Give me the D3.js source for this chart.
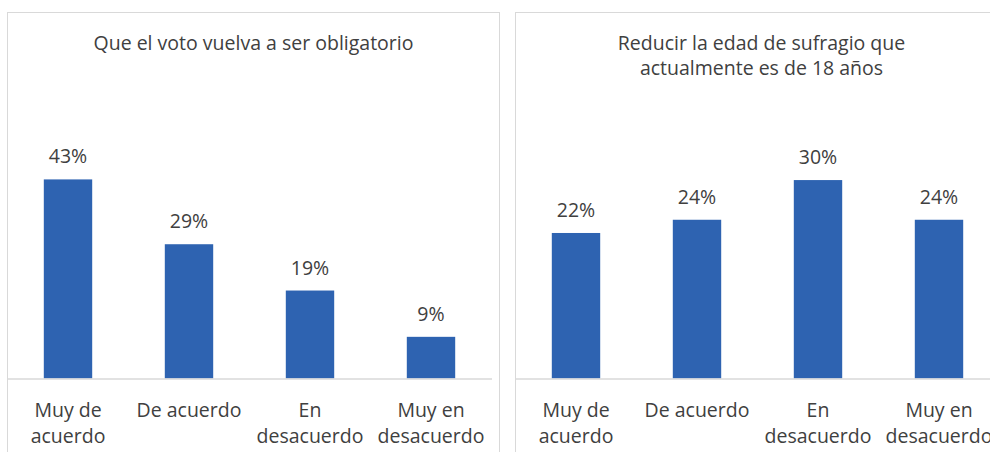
<!DOCTYPE html>
<html>
<head>
<meta charset="utf-8">
<script src="https://cdn.jsdelivr.net/npm/d3@7"></script>
<style>
  html, body { margin: 0; padding: 0; background: #fff; }
  svg text { font-family: "Open Sans", Lato, sans-serif; fill: #404040; }
</style>
</head>
<body>
<svg id="canvas" width="990" height="452"></svg>
<script>
//----- Data -----
var categories = [['Muy de', 'acuerdo'], ['De acuerdo'], ['En', 'desacuerdo'], ['Muy en', 'desacuerdo']];
var votoObligatorio = [43, 29, 19, 9];
var reducirEdad = [22, 24, 30, 24];
var titleVoto = ['Que el voto vuelva a ser obligatorio'];
var titleEdad = ['Reducir la edad de sufragio que', 'actualmente es de 18 años'];
var axisMaxVoto = 50;
var axisMaxEdad = 35;

var Panel = function(left, title, values, axisMax){
  this.left = left;
  this.top = 12.5;
  this.width = 492;
  this.height = 470;
  this.title = title;
  this.values = values;
  this.axisMax = axisMax;
  this.plotTop = 147;
  this.plotBottom = 378.5;
}

//----- Panel Methods -----
Panel.prototype.draw = function(svg){
  var g = svg.append('g');
  var keys = categories.map(function(d, i){ return i; });

  // Border of the chart area
  g.append('rect')
   .attr('x', this.left)
   .attr('y', this.top)
   .attr('width', this.width)
   .attr('height', this.height)
   .attr('fill', '#fff')
   .attr('stroke', '#d9d9d9');

  var x = d3.scaleBand()
            .domain(keys)
            .range([this.left, this.left + this.width - 8])
            .paddingInner(0.6)
            .paddingOuter(0.3);

  var y = d3.scaleLinear()
            .domain([0, this.axisMax])
            .range([this.plotBottom, this.plotTop]);

  // Title
  var cx = this.left + this.width / 2;
  g.append('text')
   .attr('text-anchor', 'middle')
   .attr('font-size', 19.5)
   .selectAll('tspan')
   .data(this.title)
   .enter().append('tspan')
   .attr('x', cx)
   .attr('y', function(d, i){ return 50 + i * 24.5; })
   .text(function(d){ return d; });

  var data = this.values.map(function(v, i){ return {key: i, value: v}; });

  g.selectAll('rect.bar')
   .data(data)
   .enter().append('rect')
   .attr('class', 'bar')
   .attr('x', function(d){ return x(d.key); })
   .attr('y', function(d){ return y(d.value); })
   .attr('width', x.bandwidth())
   .attr('height', function(d){ return y(0) - y(d.value); })
   .attr('fill', '#2e63b1');

  g.selectAll('text.value')
   .data(data)
   .enter().append('text')
   .attr('class', 'value')
   .attr('text-anchor', 'middle')
   .attr('font-size', 19.5)
   .attr('x', function(d){ return x(d.key) + x.bandwidth() / 2; })
   .attr('y', function(d){ return y(d.value) - 16; })
   .text(function(d){ return d.value + '%'; });

  // Category axis, no ticks
  var axis = g.append('g')
              .attr('transform', 'translate(0,' + this.plotBottom + ')')
              .call(d3.axisBottom(x).tickSize(0).tickFormat(''));
  axis.select('.domain').attr('stroke', '#d9d9d9').attr('stroke-width', 1.5);

  var labels = axis.selectAll('.tick').append('text')
                   .attr('text-anchor', 'middle')
                   .attr('font-size', 19.5)
                   .style('fill', '#404040');
  labels.selectAll('tspan')
        .data(function(d){ return categories[d]; })
        .enter().append('tspan')
        .attr('x', 0)
        .attr('y', function(d, i){ return 38 + i * 26; })
        .text(function(d){ return d; });
}
//----- Panel Methods End -----

var svg = d3.select('#canvas');
new Panel(7.5, titleVoto, votoObligatorio, axisMaxVoto).draw(svg);
new Panel(515.5, titleEdad, reducirEdad, axisMaxEdad).draw(svg);
</script>
</body>
</html>
